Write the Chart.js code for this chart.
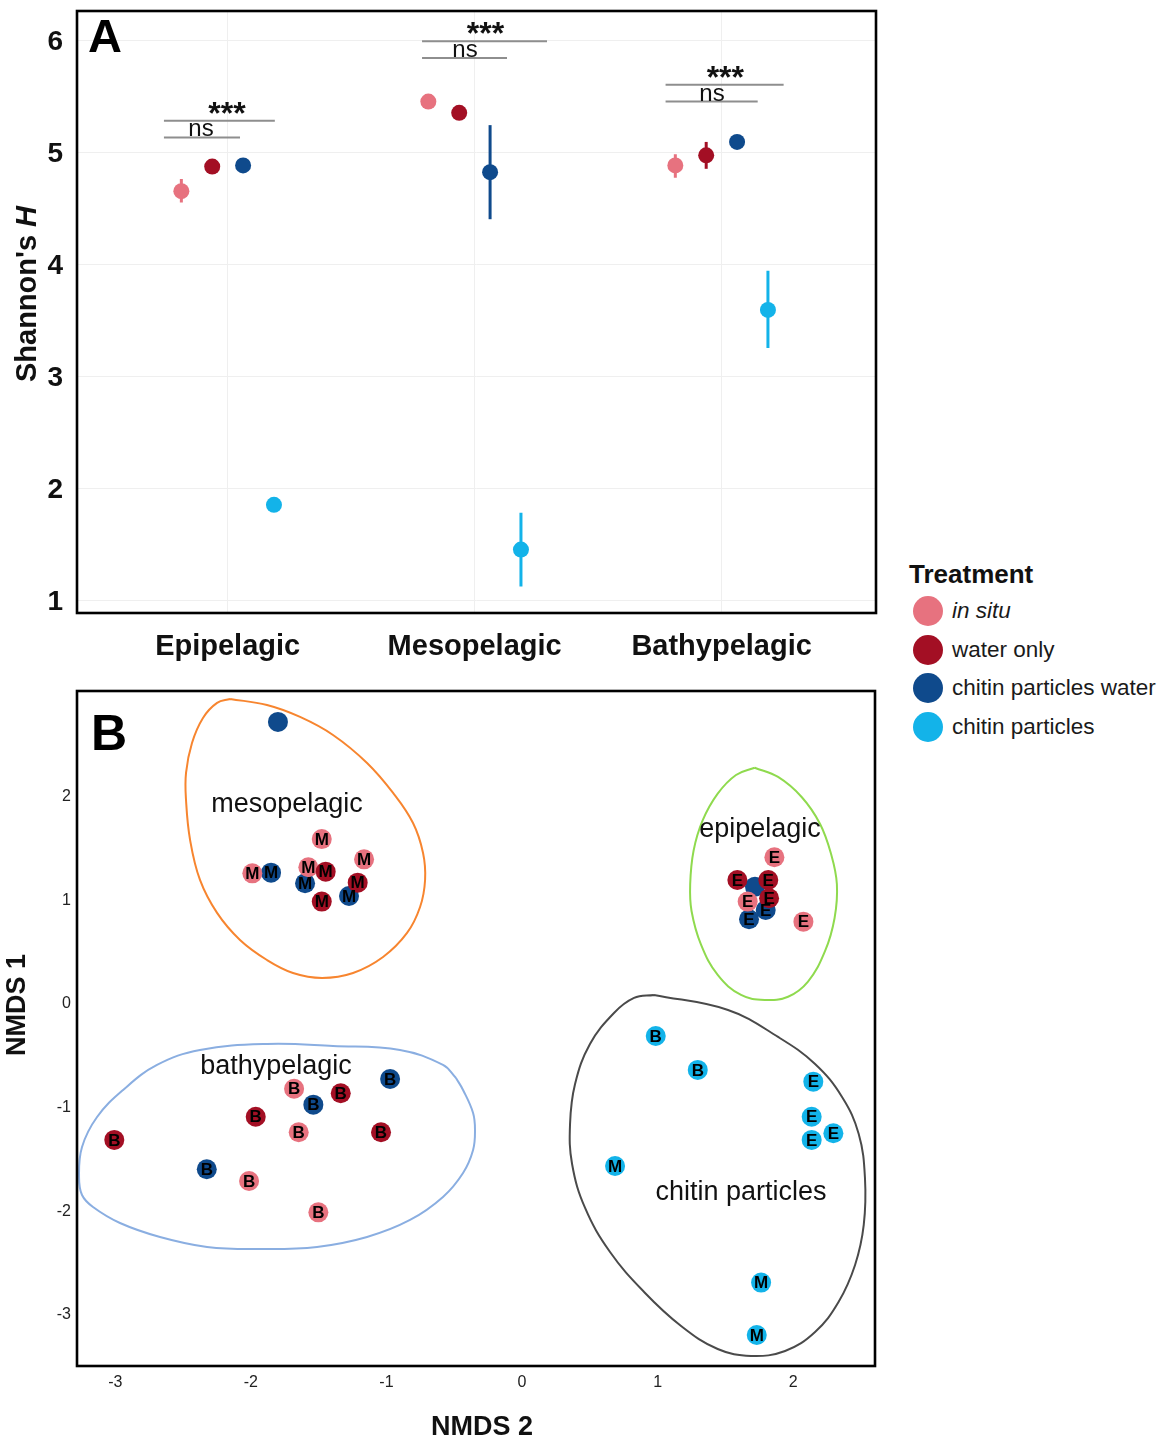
<!DOCTYPE html>
<html>
<head>
<meta charset="utf-8">
<title>Shannon diversity and NMDS ordination</title>
<script src="https://cdn.jsdelivr.net/npm/chart.js@4.4.1/dist/chart.umd.min.js"></script>
<style>
  html, body { margin: 0; padding: 0; background: #fff; }
  body { width: 1175px; height: 1441px; position: relative; overflow: hidden;
         font-family: 'Liberation Sans', Arial, Helvetica, sans-serif; color: #111; }
  #panelA { position: absolute; left: 0; top: 0; }
  #panelB { position: absolute; left: 0; top: 680px; }
  .leg-title { position: absolute; font-weight: bold; font-size: 26px; line-height: 26px; white-space: nowrap; }
  .leg-row { position: absolute; height: 30px; display: flex; align-items: center; white-space: nowrap; }
  .leg-dot { width: 30px; height: 30px; border-radius: 50%; margin-right: 9px; }
  .leg-text { font-size: 22.5px; color: #1a1a1a; }
</style>
</head>
<body>
<canvas id="panelA" width="880" height="680"></canvas>
<canvas id="panelB" width="880" height="761"></canvas>
<div id="legend"></div>
<script>
const FONT = "'Liberation Sans', Arial, Helvetica, sans-serif";

// ---------- shared treatment definitions ----------
const treatments = ['in situ', 'water only', 'chitin particles water', 'chitin particles'];
const treatmentColors = ['#E7727F', '#A30F24', '#0F4A8C', '#13B3E9'];

// ---------- Panel A: Shannon's H by depth layer ----------
const depthLayers = ['Epipelagic', 'Mesopelagic', 'Bathypelagic'];
const shannonInSitu      = [4.65, 5.45, 4.88];
const shannonWaterOnly   = [4.87, 5.35, 4.97];
const shannonChitinWater = [4.88, 4.82, 5.09];
const shannonChitin      = [1.85, 1.45, 3.59];

// error bar limits [low, high]; null where the bar is smaller than the point
const shannonInSituErr      = [[4.55, 4.76], null, [4.77, 4.98]];
const shannonWaterOnlyErr   = [null, null, [4.85, 5.09]];
const shannonChitinWaterErr = [null, [4.40, 5.24], null];
const shannonChitinErr      = [null, [1.12, 1.78], [3.25, 3.94]];

const shannonTicks = [1, 2, 3, 4, 5, 6];

// pairwise comparison brackets (x in depth-layer units, h in Shannon's H)
const comparisons = [
  { from: 0.742, to: 1.191, h: 5.28, label: '***', at: 0.997 },
  { from: 0.742, to: 1.050, h: 5.13, label: 'ns',  at: 0.892 },
  { from: 1.787, to: 2.293, h: 5.99, label: '***', at: 2.044 },
  { from: 1.787, to: 2.131, h: 5.84, label: 'ns',  at: 1.961 },
  { from: 2.773, to: 3.251, h: 5.60, label: '***', at: 3.015 },
  { from: 2.773, to: 3.146, h: 5.45, label: 'ns',  at: 2.961 }
];

// ---------- Panel B: NMDS ordination ----------
const nmdsTicksX = [-3, -2, -1, 0, 1, 2];
const nmdsTicksY = [-3, -2, -1, 0, 1, 2];

const inSituX     = [-1.477, -1.165, -1.989, -1.576, 1.861, 1.664, 2.075, -1.681, -1.647, -2.013, -1.502];
const inSituY     = [1.590, 1.395, 1.260, 1.318, 1.415, 0.987, 0.794, -0.817, -1.237, -1.707, -2.009];
const inSituLayer = ['M', 'M', 'M', 'M', 'E', 'E', 'E', 'B', 'B', 'B', 'B'];

const waterOnlyX     = [-1.448, -1.212, -1.477, 1.588, 1.816, 1.822, -1.337, -1.964, -1.040, -3.007];
const waterOnlyY     = [1.276, 1.170, 0.987, 1.196, 1.196, 1.019, -0.861, -1.087, -1.237, -1.311];
const waterOnlyLayer = ['M', 'M', 'M', 'E', 'E', 'E', 'B', 'B', 'B', 'B'];

const chitinWaterX     = [-1.800, -1.851, -1.600, -1.276, 1.718, 1.797, 1.674, -0.973, -1.539, -2.325];
const chitinWaterY     = [2.720, 1.266, 1.164, 1.041, 1.131, 0.906, 0.817, -0.723, -0.971, -1.594];
const chitinWaterLayer = ['', 'M', 'M', 'M', '', 'E', 'E', 'B', 'B', 'B'];

const chitinX     = [0.986, 1.296, 2.148, 2.136, 2.296, 2.136, 0.686, 1.763, 1.731];
const chitinY     = [-0.309, -0.636, -0.749, -1.087, -1.247, -1.311, -1.562, -2.687, -3.192];
const chitinLayer = ['B', 'B', 'E', 'E', 'E', 'E', 'M', 'M', 'M'];

// group outlines, [NMDS 2, NMDS 1] vertices
const mesoHull = [[-2.153,2.941],[-1.881,2.883],[-1.637,2.768],[-1.394,2.594],[-1.143,2.324],[-0.951,2.035],
  [-0.804,1.745],[-0.730,1.456],[-0.715,1.196],[-0.752,0.935],[-0.848,0.685],[-1.025,0.453],[-1.246,0.299],
  [-1.475,0.251],[-1.689,0.299],[-1.881,0.424],[-2.080,0.617],[-2.249,0.878],[-2.375,1.196],[-2.448,1.581],
  [-2.478,1.967],[-2.478,2.228],[-2.434,2.517],[-2.353,2.758],[-2.249,2.903],[-2.153,2.941]];
const epiHull = [[1.716,2.278],[1.888,2.189],[2.062,1.996],[2.198,1.736],[2.279,1.446],[2.322,1.154],
  [2.305,0.829],[2.235,0.511],[2.109,0.216],[1.962,0.070],[1.790,0.039],[1.615,0.087],[1.443,0.280],
  [1.320,0.572],[1.250,0.897],[1.240,1.154],[1.265,1.478],[1.332,1.770],[1.443,2.028],[1.578,2.208],[1.716,2.278]];
const bathyHull = [[-0.487,-0.714],[-0.435,-0.829],[-0.361,-1.051],[-0.347,-1.215],[-0.361,-1.408],
  [-0.435,-1.630],[-0.583,-1.861],[-0.826,-2.083],[-1.143,-2.247],[-1.512,-2.343],[-1.932,-2.363],
  [-2.323,-2.343],[-2.670,-2.247],[-2.965,-2.112],[-3.164,-1.958],[-3.245,-1.842],[-3.267,-1.668],
  [-3.245,-1.379],[-3.134,-1.090],[-2.942,-0.829],[-2.692,-0.588],[-2.375,-0.444],[-1.881,-0.386],
  [-1.394,-0.405],[-0.900,-0.444],[-0.583,-0.588],[-0.487,-0.714]];
const chitinHull = [[0.973,0.087],[1.519,-0.058],[1.888,-0.318],[2.161,-0.579],[2.360,-0.897],
  [2.483,-1.254],[2.529,-1.678],[2.520,-2.131],[2.456,-2.517],[2.334,-2.874],[2.161,-3.163],
  [1.940,-3.346],[1.689,-3.394],[1.443,-3.327],[1.173,-3.105],[0.900,-2.777],[0.649,-2.392],
  [0.465,-1.967],[0.369,-1.543],[0.354,-1.157],[0.391,-0.771],[0.501,-0.386],[0.678,-0.087],
  [0.826,0.058],[0.973,0.087]];

const groupNames  = ['mesopelagic', 'epipelagic', 'bathypelagic', 'chitin particles'];
const groupHulls  = [mesoHull, epiHull, bathyHull, chitinHull];
const groupColors = ['#F7852F', '#8FDA4E', '#8AAEE1', '#4A4A4A'];
const groupLabelX = [-1.733, 1.755, -1.814, 1.615];
const groupLabelY = [1.919, 1.678, -0.605, -1.823];

// ---------- shared helpers ----------
// keep the plot area fixed: no extra room reserved for overhanging tick labels
function noLabelOverhang(ax) {
  ax.paddingLeft = 0; ax.paddingRight = 0; ax.paddingTop = 0; ax.paddingBottom = 0;
}

const framePlugin = {
  id: 'frame',
  afterDraw(chart) {
    const { ctx, chartArea: a } = chart;
    ctx.save();
    ctx.lineWidth = 2.6;
    ctx.strokeStyle = '#000';
    ctx.strokeRect(a.left, a.top, a.right - a.left, a.bottom - a.top);
    ctx.restore();
  }
};

function panelLetter(letter, x, y, size) {
  return {
    id: 'panelLetter' + letter,
    afterDraw(chart) {
      const ctx = chart.ctx;
      ctx.save();
      ctx.font = `bold ${size}px ${FONT}`;
      ctx.fillStyle = '#000';
      ctx.textAlign = 'left';
      ctx.textBaseline = 'alphabetic';
      ctx.fillText(letter, x, y);
      ctx.restore();
    }
  };
}

// ---------- Panel A chart ----------
const dodge = [-0.1875, -0.0625, 0.0625, 0.1875];
const seriesA = [shannonInSitu, shannonWaterOnly, shannonChitinWater, shannonChitin];
const errA = [shannonInSituErr, shannonWaterOnlyErr, shannonChitinWaterErr, shannonChitinErr];

const datasetsA = [];
seriesA.forEach((vals, k) => {
  datasetsA.push({
    label: treatments[k],
    data: vals.map((v, i) => ({ x: i + 1 + dodge[k], y: v })),
    backgroundColor: treatmentColors[k],
    borderColor: treatmentColors[k],
    pointBackgroundColor: treatmentColors[k],
    pointBorderWidth: 0,
    pointRadius: 8,
    pointHoverRadius: 8,
    order: 1
  });
  const bars = [];
  errA[k].forEach((e, i) => {
    if (!e) return;
    const x = i + 1 + dodge[k];
    bars.push({ x, y: e[0] }, { x, y: e[1] }, { x, y: null });
  });
  datasetsA.push({
    label: treatments[k] + ' error',
    data: bars,
    showLine: true,
    spanGaps: false,
    borderColor: treatmentColors[k],
    borderWidth: 3,
    pointRadius: 0,
    order: 2
  });
});
comparisons.forEach(c => {
  datasetsA.push({
    label: 'comparison ' + c.label,
    data: [{ x: c.from, y: c.h }, { x: c.to, y: c.h }],
    showLine: true,
    borderColor: '#8E8E8E',
    borderWidth: 2,
    pointRadius: 0,
    order: 3
  });
});

const annotationTextPlugin = {
  id: 'comparisonText',
  afterDatasetsDraw(chart) {
    const { ctx, scales: { x, y } } = chart;
    ctx.save();
    ctx.fillStyle = '#111';
    ctx.textAlign = 'center';
    ctx.textBaseline = 'alphabetic';
    comparisons.forEach(c => {
      const px = x.getPixelForValue(c.at);
      const py = y.getPixelForValue(c.h);
      if (c.label === 'ns') {
        ctx.font = `24px ${FONT}`;
        ctx.fillText(c.label, px, py - 1);
      } else {
        ctx.font = `bold 32px ${FONT}`;
        ctx.fillText(c.label, px, py + 3);
      }
    });
    ctx.restore();
  }
};

const yTitleAPlugin = {
  id: 'yTitleA',
  afterDraw(chart) {
    const ctx = chart.ctx;
    ctx.save();
    const a = "Shannon's ", b = 'H';
    ctx.font = `bold 29px ${FONT}`;
    const w1 = ctx.measureText(a).width;
    ctx.font = `italic bold 29px ${FONT}`;
    const w2 = ctx.measureText(b).width;
    ctx.translate(28, 294);
    ctx.rotate(-Math.PI / 2);
    ctx.fillStyle = '#111';
    ctx.textAlign = 'left';
    ctx.textBaseline = 'middle';
    const x0 = -(w1 + w2) / 2;
    ctx.font = `bold 29px ${FONT}`;
    ctx.fillText(a, x0, 0);
    ctx.font = `italic bold 29px ${FONT}`;
    ctx.fillText(b, x0 + w1, 0);
    ctx.restore();
  }
};

new Chart(document.getElementById('panelA'), {
  type: 'scatter',
  data: { datasets: datasetsA },
  options: {
    responsive: false,
    animation: false,
    devicePixelRatio: 1,
    events: [],
    layout: { autoPadding: false, padding: { left: 0, right: 4, top: 11, bottom: 0 } },
    plugins: { legend: { display: false }, tooltip: { enabled: false } },
    scales: {
      x: {
        type: 'linear',
        min: 0.39, max: 3.625,
        afterBuildTicks: ax => { ax.ticks = depthLayers.map((_, i) => ({ value: i + 1 })); },
        afterFit: ax => { ax.height = 67; noLabelOverhang(ax); },
        ticks: {
          callback: v => depthLayers[v - 1] || '',
          font: { family: FONT, size: 29, weight: 'bold' },
          color: '#111', padding: 17, maxRotation: 0, autoSkip: false
        },
        grid: { color: '#EFEFEF', lineWidth: 1, drawTicks: false, tickLength: 0 },
        border: { display: false }
      },
      y: {
        type: 'linear',
        min: 0.884, max: 6.259,
        afterBuildTicks: ax => { ax.ticks = shannonTicks.map(v => ({ value: v })); },
        afterFit: ax => { ax.width = 77; noLabelOverhang(ax); },
        ticks: {
          callback: v => String(v),
          font: { family: FONT, size: 28, weight: 'bold' },
          color: '#111', padding: 14, labelOffset: 2
        },
        grid: { color: '#EFEFEF', lineWidth: 1, drawTicks: false, tickLength: 0 },
        border: { display: false }
      }
    }
  },
  plugins: [framePlugin, annotationTextPlugin, yTitleAPlugin, panelLetter('A', 88, 52, 47)]
});

// ---------- Panel B chart ----------
const seriesB = [
  { x: inSituX, y: inSituY, letters: inSituLayer, k: 0, order: 3 },
  { x: waterOnlyX, y: waterOnlyY, letters: waterOnlyLayer, k: 1, order: 2 },
  { x: chitinWaterX, y: chitinWaterY, letters: chitinWaterLayer, k: 2, order: 4 },
  { x: chitinX, y: chitinY, letters: chitinLayer, k: 3, order: 1 }
];

const datasetsB = [];
groupHulls.forEach((hull, g) => {
  datasetsB.push({
    label: groupNames[g] + ' outline',
    data: hull.map(p => ({ x: p[0], y: p[1] })),
    showLine: true,
    tension: 0.4,
    borderColor: groupColors[g],
    borderWidth: 2,
    pointRadius: 0,
    fill: false,
    order: 10
  });
});
seriesB.forEach(s => {
  datasetsB.push({
    label: treatments[s.k],
    data: s.x.map((xv, i) => ({ x: xv, y: s.y[i] })),
    letters: s.letters,
    backgroundColor: treatmentColors[s.k],
    borderColor: treatmentColors[s.k],
    pointBackgroundColor: treatmentColors[s.k],
    pointBorderWidth: 0,
    pointRadius: 10,
    pointHoverRadius: 10,
    order: s.order
  });
});

const pointLetterPlugin = {
  id: 'pointLetters',
  afterDatasetsDraw(chart) {
    const ctx = chart.ctx;
    ctx.save();
    ctx.font = `bold 17px ${FONT}`;
    ctx.fillStyle = '#000';
    ctx.textAlign = 'center';
    ctx.textBaseline = 'middle';
    chart.data.datasets.forEach((ds, i) => {
      if (!ds.letters) return;
      chart.getDatasetMeta(i).data.forEach((pt, j) => {
        const t = ds.letters[j];
        if (t) ctx.fillText(t, pt.x, pt.y + 1);
      });
    });
    ctx.restore();
  }
};

const groupLabelPlugin = {
  id: 'groupLabels',
  afterDatasetsDraw(chart) {
    const { ctx, scales: { x, y } } = chart;
    ctx.save();
    ctx.font = `27px ${FONT}`;
    ctx.fillStyle = '#111';
    ctx.textAlign = 'center';
    ctx.textBaseline = 'alphabetic';
    groupNames.forEach((name, g) => {
      ctx.fillText(name, x.getPixelForValue(groupLabelX[g]), y.getPixelForValue(groupLabelY[g]) + 7);
    });
    ctx.restore();
  }
};

const axisTitlesBPlugin = {
  id: 'axisTitlesB',
  afterDraw(chart) {
    const ctx = chart.ctx;
    ctx.save();
    ctx.font = `bold 27px ${FONT}`;
    ctx.fillStyle = '#111';
    ctx.textAlign = 'center';
    ctx.textBaseline = 'middle';
    ctx.fillText('NMDS 2', 482, 748);
    ctx.translate(18, 325);
    ctx.rotate(-Math.PI / 2);
    ctx.fillText('NMDS 1', 0, 0);
    ctx.restore();
  }
};

new Chart(document.getElementById('panelB'), {
  type: 'scatter',
  data: { datasets: datasetsB },
  options: {
    responsive: false,
    animation: false,
    devicePixelRatio: 1,
    events: [],
    layout: { autoPadding: false, padding: { left: 0, right: 5, top: 11, bottom: 0 } },
    plugins: { legend: { display: false }, tooltip: { enabled: false } },
    scales: {
      x: {
        type: 'linear',
        min: -3.282, max: 2.603,
        afterBuildTicks: ax => { ax.ticks = nmdsTicksX.map(v => ({ value: v })); },
        afterFit: ax => { ax.height = 75; noLabelOverhang(ax); },
        ticks: { callback: v => String(v), font: { family: FONT, size: 16 }, color: '#222', padding: 7, maxRotation: 0, autoSkip: false },
        grid: { display: false, drawTicks: false, tickLength: 0 },
        border: { display: false }
      },
      y: {
        type: 'linear',
        min: -3.491, max: 3.018,
        afterBuildTicks: ax => { ax.ticks = nmdsTicksY.map(v => ({ value: v })); },
        afterFit: ax => { ax.width = 77; noLabelOverhang(ax); },
        ticks: { callback: v => String(v), font: { family: FONT, size: 16 }, color: '#222', padding: 6 },
        grid: { display: false, drawTicks: false, tickLength: 0 },
        border: { display: false }
      }
    }
  },
  plugins: [framePlugin, pointLetterPlugin, groupLabelPlugin, axisTitlesBPlugin, panelLetter('B', 91, 70, 50)]
});

// ---------- Treatment legend ----------
const legend = document.getElementById('legend');
const title = document.createElement('div');
title.className = 'leg-title';
title.textContent = 'Treatment';
title.style.left = '909px';
title.style.top = '561px';
legend.appendChild(title);
const rowCenters = [611, 650, 688, 727];
treatments.forEach((t, k) => {
  const row = document.createElement('div');
  row.className = 'leg-row';
  row.style.left = '913px';
  row.style.top = (rowCenters[k] - 15) + 'px';
  const dot = document.createElement('span');
  dot.className = 'leg-dot';
  dot.style.background = treatmentColors[k];
  const txt = document.createElement('span');
  txt.className = 'leg-text';
  txt.textContent = t;
  if (t === 'in situ') txt.style.fontStyle = 'italic';
  row.appendChild(dot);
  row.appendChild(txt);
  legend.appendChild(row);
});
</script>
</body>
</html>
